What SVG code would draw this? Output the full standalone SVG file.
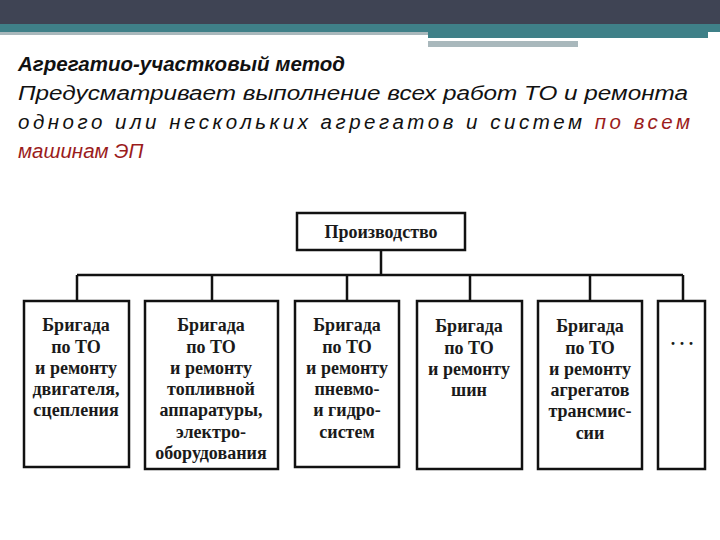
<svg xmlns="http://www.w3.org/2000/svg" width="720" height="540" viewBox="0 0 720 540">
<style>
.h{font-family:"Liberation Sans",Arial,sans-serif;font-size:20.5px;font-style:italic;fill:#111}
.b{fill:#fff;stroke:#111;stroke-width:2.5}
.t{font-family:"Liberation Serif","Times New Roman",serif;font-size:18px;font-weight:bold;fill:#1a1a1a;text-anchor:middle}
.c{stroke:#111;stroke-width:2.5;fill:none}
.r{fill:#9b1c1c}
</style>
<rect width="720" height="540" fill="#fff"/>
<rect x="0" y="0" width="720" height="24" fill="#3f4454"/>
<rect x="0" y="24" width="720" height="8" fill="#3f8088"/>
<rect x="0" y="32" width="428" height="3" fill="#a9b8bc"/>
<rect x="428" y="32" width="280" height="6" fill="#3f8088"/>
<rect x="428" y="38" width="238" height="3" fill="#fff"/>
<rect x="428" y="41" width="150" height="6" fill="#a9b8bc"/>
<text class="h" x="18" y="71" font-weight="bold">Агрегатио-участковый метод</text>
<text class="h" x="18" y="100" textLength="670" lengthAdjust="spacingAndGlyphs"> Предусматривает выполнение всех работ ТО и ремонта</text>
<text class="h" x="18" y="129" textLength="672" lengthAdjust="spacing">одного или нескольких агрегатов и систем <tspan class="r">по всем</tspan></text>
<text class="h" x="18" y="158"><tspan class="r">машинам ЭП</tspan></text>
<g id="connectors">
<path class="c" d="M381 250V275M77 275H683M77 275V301M212 275V301M347 275V301M470 275V301M590 275V301M683 275V301"/>
</g>
<g id="top"><rect class="b" x="297" y="213" width="168" height="37"/><text class="t" x="381" y="238">Производство</text></g>
<g id="n1"><rect class="b" x="24" y="301" width="105" height="166"/>
<text class="t" x="76" y="331">Бригада</text><text class="t" x="76" y="353">по ТО</text><text class="t" x="76" y="374">и ремонту</text><text class="t" x="76" y="395">двигателя,</text><text class="t" x="76" y="416">сцепления</text></g>
<g id="n2"><rect class="b" x="145" y="301" width="133" height="168"/>
<text class="t" x="211" y="331">Бригада</text><text class="t" x="211" y="353">по ТО</text><text class="t" x="211" y="374">и ремонту</text><text class="t" x="211" y="395">топливной</text><text class="t" x="211" y="416">аппаратуры,</text><text class="t" x="211" y="438">электро-</text><text class="t" x="211" y="459">оборудования</text></g>
<g id="n3"><rect class="b" x="295" y="301" width="104" height="166"/>
<text class="t" x="347" y="331">Бригада</text><text class="t" x="347" y="353">по ТО</text><text class="t" x="347" y="374">и ремонту</text><text class="t" x="347" y="395">пневмо-</text><text class="t" x="347" y="416">и гидро-</text><text class="t" x="347" y="438">систем</text></g>
<g id="n4"><rect class="b" x="417" y="301" width="105" height="168"/>
<text class="t" x="469" y="332">Бригада</text><text class="t" x="469" y="354">по ТО</text><text class="t" x="469" y="375">и ремонту</text><text class="t" x="469" y="396">шин</text></g>
<g id="n5"><rect class="b" x="538" y="301" width="104" height="168"/>
<text class="t" x="590" y="332">Бригада</text><text class="t" x="590" y="354">по ТО</text><text class="t" x="590" y="375">и ремонту</text><text class="t" x="590" y="396">агрегатов</text><text class="t" x="590" y="417">трансмис-</text><text class="t" x="590" y="439">сии</text></g>
<g id="n6"><rect class="b" x="658" y="301" width="47" height="168"/>
<text class="t" x="682" y="345" font-weight="normal">. . .</text></g>
</svg>
